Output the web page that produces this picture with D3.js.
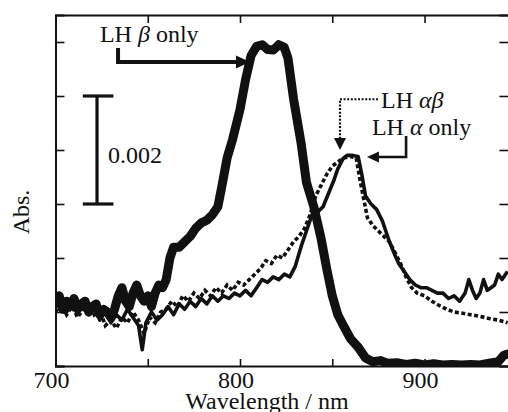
<!DOCTYPE html>
<html><head><meta charset="utf-8">
<script src="https://cdn.jsdelivr.net/npm/d3@7"></script>
<style>
html,body{margin:0;padding:0;background:#fff;}
svg{display:block;}
</style></head>
<body>
<script>
// ---- data (absorbance in units of 0.001, wavelength in nm) ----
const betaWl = [700,702,704,706,708,710,712,714,716,718,720,722,724,726,728,730,732,734,736,738,740,742,744,746,748,750,752,754,756,758,760,762,764,767,770,773,776,779,782,785,788,790,793,796,800,803,806,809,812,815,818,821,824,826,829,833,836,840,844,847,850,853,856,860,864,868,872,876,880,885,890,895,900,905,910,915,920,925,930,935,940,943,945];
const betaAbs = [1.15,1.3,1.05,1.2,1.1,1.25,1.05,1.15,1.2,1.0,1.1,1.15,0.95,1.05,1.0,0.9,1.05,1.3,1.45,1.2,1.1,1.35,1.5,1.3,1.2,1.3,1.1,1.35,1.5,1.45,1.6,2.0,2.2,2.2,2.3,2.4,2.55,2.65,2.7,2.8,2.95,3.3,3.85,4.2,4.75,5.3,5.75,5.92,5.95,5.86,5.85,5.95,5.9,5.7,4.95,4.15,3.4,2.95,2.35,1.8,1.3,0.95,0.75,0.5,0.35,0.15,0.08,0.1,0.05,0.06,0.03,0.05,0.02,0.04,0.02,0.03,0.02,0.03,0.02,0.05,0.08,0.2,0.22];

const alphaWl = [700,703,706,709,712,715,718,721,724,727,730,733,736,739,742,745,747,749,752,755,758,761,764,767,770,773,776,779,782,785,788,791,794,797,800,803,806,809,812,815,818,821,824,827,830,833,836,839,842,845,848,851,853,856,858,861,864,866,868,871,874,877,879,881,884,886,889,892,895,898,901,904,907,910,913,916,919,922,924,926,928,930,932,934,936,938,940,942,945];
const alphaAbs = [1.1,1.25,1.0,1.15,1.05,1.2,0.95,1.1,0.85,1.0,0.8,0.95,0.85,1.05,0.9,0.75,0.3,0.8,1.0,0.85,0.95,1.1,0.95,1.15,1.05,1.2,1.1,1.25,1.15,1.3,1.2,1.3,1.25,1.35,1.3,1.4,1.3,1.45,1.6,1.55,1.65,1.6,1.7,1.65,1.85,2.2,2.5,2.8,2.85,2.95,3.2,3.45,3.65,3.85,3.9,3.9,3.88,3.55,3.15,3.0,2.9,2.7,2.5,2.3,2.05,1.9,1.75,1.6,1.5,1.45,1.45,1.4,1.35,1.35,1.25,1.3,1.2,1.35,1.6,1.4,1.25,1.35,1.6,1.4,1.45,1.5,1.7,1.6,1.75];

const abWl = [700,703,706,709,712,715,718,721,724,727,730,733,736,739,742,745,748,751,754,757,760,763,766,769,772,775,778,781,784,787,790,793,796,799,802,805,808,811,814,817,820,823,826,829,832,835,838,841,844,847,850,853,856,860,863,865,867,869,872,875,878,881,884,887,890,893,896,900,904,908,912,916,920,925,930,935,940,945];
const abAbs = [1.0,1.15,0.95,1.1,0.9,1.05,1.15,0.95,1.05,0.75,0.85,0.7,0.9,0.8,1.0,0.85,0.6,0.9,0.8,1.0,1.05,1.2,1.1,1.3,1.2,1.35,1.25,1.4,1.3,1.45,1.35,1.5,1.4,1.55,1.5,1.6,1.7,1.8,1.95,1.9,2.05,2.0,2.15,2.3,2.4,2.55,2.8,3.15,3.35,3.55,3.7,3.78,3.85,3.88,3.85,3.45,3.1,2.75,2.6,2.5,2.4,2.3,2.1,1.9,1.65,1.45,1.35,1.3,1.2,1.12,1.05,1.0,0.98,0.95,0.92,0.88,0.85,0.8];

const xTicks = [700,750,800,850,900];
const xTickLabels = {700:"700",800:"800",900:"900"};
const yTicks = [0,1,2,3,4,5,6];

// ---- layout ----
const FONT = "'Liberation Serif', 'Times New Roman', Times, 'DejaVu Serif', serif";
const W = 508, H = 412;
const x = d3.scaleLinear().domain([700,946]).range([55.5,509.4]);
const y = d3.scaleLinear().domain([0,6.5]).range([366,15]);

const svg = d3.select("body").append("svg").attr("width",W).attr("height",H)
  .style("font-family",FONT);
svg.append("defs").append("clipPath").attr("id","clip")
  .append("rect").attr("x",x(700)).attr("y",y(6.5)).attr("width",x(946)-x(700)).attr("height",y(0)-y(6.5));

function styleAxis(g){
  g.select(".domain").attr("stroke","#111").attr("stroke-width",2);
  g.selectAll(".tick line").attr("stroke","#111").attr("stroke-width",1.6);
}
svg.append("g").attr("transform",`translate(0,${y(0)})`)
  .call(d3.axisBottom(x).tickValues(xTicks).tickSize(-7).tickFormat("")).call(styleAxis);
svg.append("g").attr("transform",`translate(0,${y(6.5)})`)
  .call(d3.axisTop(x).tickValues(xTicks).tickSize(-8).tickFormat("")).call(styleAxis);
svg.append("g").attr("transform",`translate(${x(700)},0)`)
  .call(d3.axisLeft(y).tickValues(yTicks).tickSize(-9).tickFormat("")).call(styleAxis);
svg.append("g").attr("transform",`translate(${x(946)},0)`)
  .call(d3.axisRight(y).tickValues(yTicks).tickSize(-10).tickFormat("")).call(styleAxis);

function txt(sel){ return sel.attr("font-family",FONT).attr("fill","#111"); }

// tick labels
svg.append("g").selectAll("text").data(xTicks.filter(d=>xTickLabels[d])).join("text")
  .call(txt).attr("x",d=>x(d)-4).attr("y",388).attr("text-anchor","middle").attr("font-size",24)
  .text(d=>xTickLabels[d]);

svg.append("text").call(txt).attr("x",267).attr("y",409).attr("text-anchor","middle").attr("font-size",24).text("Wavelength / nm");
svg.append("text").call(txt).attr("transform","translate(29,212) rotate(-90)").attr("text-anchor","middle").attr("font-size",24).text("Abs.");

// series
const plot = svg.append("g").attr("clip-path","url(#clip)");
const line = d3.line().x(d=>x(d[0])).y(d=>y(d[1]));
const zip = (a,b)=>a.map((v,i)=>[v,b[i]]);

plot.append("path").datum(zip(alphaWl,alphaAbs)).attr("d",line)
  .attr("fill","none").attr("stroke","#111").attr("stroke-width",3.6).attr("stroke-linejoin","round");
plot.append("path").datum(zip(abWl,abAbs)).attr("d",line)
  .attr("fill","none").attr("stroke","#111").attr("stroke-width",3.6).attr("stroke-dasharray","4,2.5");
plot.append("path").datum(zip(betaWl,betaAbs)).attr("d",line)
  .attr("fill","none").attr("stroke","#111").attr("stroke-width",9).attr("stroke-linejoin","round").attr("stroke-linecap","round");

// scale bar 0.002 (= 2 units)
const sb = svg.append("g").attr("stroke","#111").attr("stroke-width",3.2);
sb.append("line").attr("x1",x(722.5)).attr("x2",x(722.5)).attr("y1",y(3)).attr("y2",y(5));
sb.append("line").attr("x1",x(714.8)).attr("x2",x(731.4)).attr("y1",y(5)).attr("y2",y(5));
sb.append("line").attr("x1",x(714.8)).attr("x2",x(731.4)).attr("y1",y(3)).attr("y2",y(3));
svg.append("text").call(txt).attr("x",x(728.5)).attr("y",y(3.76)).attr("font-size",24).text("0.002");

// annotations
function label(lx, ly, parts){
  const t = svg.append("text").call(txt).attr("x",lx).attr("y",ly).attr("font-size",24);
  parts.forEach(p=>t.append("tspan").attr("font-style",p[1]?"italic":"normal").text(p[0]));
}
label(x(724.1), y(6.0), [["LH ",0],["β",1],[" only",0]]);
label(x(876.4), y(4.78), [["LH ",0],["αβ",1]]);
label(x(871.5), y(4.28), [["LH ",0],["α",1],[" only",0]]);

function arrowHead(tx, ty, dir, len, half){
  let pts;
  if(dir==="right") pts=[[tx,ty],[tx-len,ty-half],[tx-len,ty+half]];
  if(dir==="left") pts=[[tx,ty],[tx+len,ty-half],[tx+len,ty+half]];
  if(dir==="down") pts=[[tx,ty],[tx-half,ty-len],[tx+half,ty-len]];
  svg.append("path").attr("d","M"+pts.map(p=>p.join(",")).join("L")+"Z").attr("fill","#111");
}
svg.append("path").attr("d",`M${x(733.9)},${y(5.89)}V${y(5.63)}H${x(805.4)-12}`)
  .attr("fill","none").attr("stroke","#111").attr("stroke-width",4);
arrowHead(x(805.4), y(5.63), "right", 14, 6.5);
svg.append("path").attr("d",`M${x(874.8)},${y(4.94)}H${x(854.2)}V${y(4.0)-10}`)
  .attr("fill","none").attr("stroke","#111").attr("stroke-width",2.2).attr("stroke-dasharray","2,1.6");
arrowHead(x(854.2), y(4.0), "down", 12, 6);
svg.append("path").attr("d",`M${x(890)},${y(4.26)}V${y(3.87)}H${x(868.8)+10}`)
  .attr("fill","none").attr("stroke","#111").attr("stroke-width",2.6);
arrowHead(x(868.8), y(3.87), "left", 12, 5.5);
</script>
</body></html>
